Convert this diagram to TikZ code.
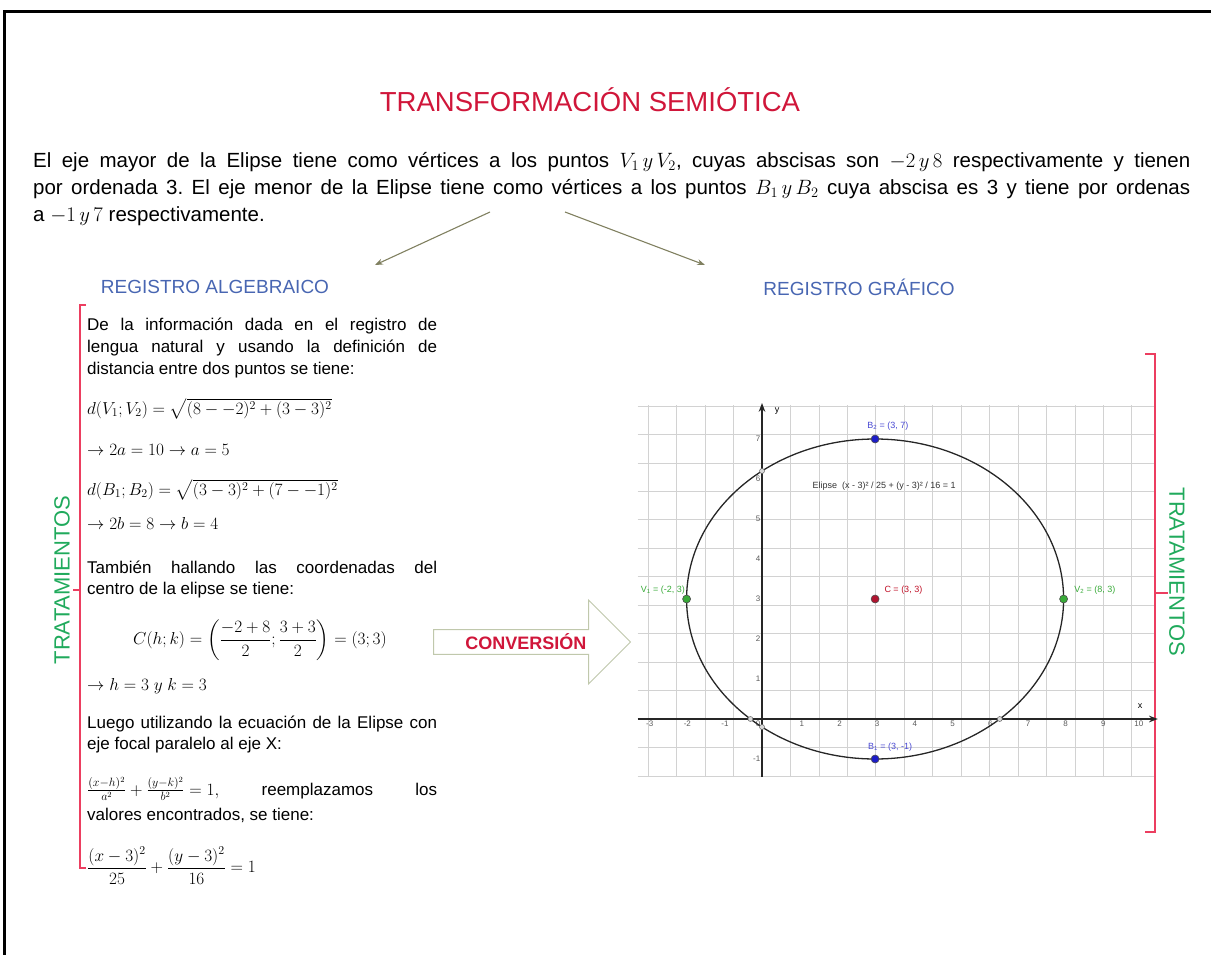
\documentclass[tikz,border=0pt]{standalone}
\usepackage{amsmath,amssymb}
\usepackage{fontspec}
\setmainfont{Liberation Sans}
\usetikzlibrary{arrows.meta,positioning,calc,shapes.arrows}
\frenchspacing

\definecolor{rojotit}{RGB}{208,22,58}
\definecolor{azulreg}{RGB}{72,102,178}
\definecolor{verdetrat}{RGB}{32,170,92}
\definecolor{rosallave}{RGB}{236,62,96}
\definecolor{olivo}{RGB}{128,128,96}
\definecolor{bordeflecha}{RGB}{192,200,172}
\definecolor{azulpto}{RGB}{28,28,200}
\definecolor{rojopto}{RGB}{176,20,48}
\definecolor{verdepto}{RGB}{56,170,56}

\begin{document}
\begin{tikzpicture}[>=Stealth,x=1pt,y=-1pt,
  texto/.style={anchor=base west,inner sep=0pt,font=\fontsize{17}{21}\selectfont},
  registro/.style={text=azulreg,font=\fontsize{19}{23}\selectfont,inner sep=0pt},
  trat/.style={text=verdetrat,font=\fontsize{22}{26}\selectfont,inner sep=0pt},
  llave/.style={draw=rosallave,line width=1.4pt},
  flecha/.style={->,draw=olivo,line width=1.1pt},
  rejilla/.style={draw=gray!35,line width=0.8pt},
  eje/.style={->,draw=black!85,line width=1.3pt},
  marca/.style={font=\fontsize{8}{9}\selectfont,text=black!65,inner sep=1.5pt},
  etq/.style={font=\fontsize{9}{10}\selectfont,inner sep=0pt},
  punto/.style={circle,draw=black!70,line width=0.6pt,minimum size=8pt,inner sep=0pt},
  corte/.style={circle,draw=black!60,fill=gray!30,line width=0.5pt,minimum size=5pt,inner sep=0pt}]
\useasboundingbox (0,0) rectangle (1211,955);
\draw[line width=2.6pt] (4.3,955) -- (4.3,11.3) -- (1211,11.3);

% encabezado
\node[text=rojotit,font=\fontsize{27.5}{32}\selectfont] (titulo) at (590,100) {TRANSFORMACIÓN SEMIÓTICA};
\node[anchor=north west,text width=1157pt,align=justify,inner sep=0pt,font=\fontsize{20.5}{27}\selectfont] (enunciado) at (33,152)
  {El eje mayor de la Elipse tiene como vértices a los puntos $V_1\,y\,V_2$, cuyas abscisas son $-2\,y\,8$ respectivamente y tienen\linebreak
   por ordenada 3. El eje menor de la Elipse tiene como vértices a los puntos $B_1\,y\,B_2$ cuya abscisa es 3 y tiene por ordenas\linebreak
   a $-1\,y\,7$ respectivamente.};

\node[registro] (regalg) at (215,287) {REGISTRO ALGEBRAICO};
\node[registro] (reggraf) at (859,287) {REGISTRO GRÁFICO};

\coordinate (salidaA) at (490,212);
\coordinate (salidaB) at (565,212);
\coordinate (llegadaA) at (375,265);
\coordinate (llegadaB) at (705,265);
\draw[flecha] (salidaA) -- (llegadaA);
\draw[flecha] (salidaB) -- (llegadaB);

% registro algebraico
\node[texto] (lin1) at (87,330) {\makebox[350pt][s]{De la información dada en el registro de}};
\node[texto] (lin2) at (87,352) {\makebox[350pt][s]{lengua natural y usando la definición de}};
\node[texto] (lin3) at (87,374) {distancia entre dos puntos se tiene:};
\node[texto] (dv) at (87,414) {$d(V_1;V_2)=\sqrt{(8--2)^2+(3-3)^2}$};
\node[texto] (av) at (87,455) {$\rightarrow 2a=10\rightarrow a=5$};
\node[texto] (db) at (87,495) {$d(B_1;B_2)=\sqrt{(3-3)^2+(7--1)^2}$};
\node[texto] (bv) at (87,529) {$\rightarrow 2b=8\rightarrow b=4$};
\node[texto] (lin4) at (87,573) {\makebox[350pt][s]{También hallando las coordenadas del}};
\node[texto] (lin5) at (87,594) {centro de la elipse se tiene:};
\node[texto,anchor=center] (centro) at (260,640) {$\displaystyle C(h;k)=\left(\frac{-2+8}{2};\frac{3+3}{2}\right)=(3;3)$};
\node[texto] (hk) at (87,690) {$\rightarrow h=3\;y\;k=3$};
\node[texto] (lin6) at (87,728) {\makebox[350pt][s]{Luego utilizando la ecuación de la Elipse con}};
\node[texto] (lin7) at (87,749) {eje focal paralelo al eje X:};
\node[texto] (lin8) at (87,795) {\makebox[350pt][l]{$\frac{(x-h)^2}{a^2}+\frac{(y-k)^2}{b^2}=1,$\hfill reemplazamos\hfill los}};
\node[texto] (lin9) at (87,820) {valores encontrados, se tiene:};
\node[texto,anchor=west] (final) at (87,866) {$\dfrac{(x-3)^2}{25}+\dfrac{(y-3)^2}{16}=1$};

% llaves
\draw[llave] (86,305) -- (80,305) -- (80,868) -- (86,868);
\draw[llave] (80,590) -- (73,590);
\node[trat,rotate=90] (tratizq) at (62,580) {TRATAMIENTOS};
\draw[llave] (1145,354) -- (1155,354) -- (1155,832) -- (1145,832);
\draw[llave] (1155,593) -- (1168,593);
\node[trat,rotate=-90] (tratder) at (1177,572) {TRATAMIENTOS};

% conversion
\node[single arrow,draw=bordeflecha,line width=1pt,fill=white,minimum height=197pt,minimum width=84pt,
  single arrow head extend=20.5pt,inner sep=0pt,anchor=tail,text=rojotit,font=\bfseries\fontsize{18}{20}\selectfont]
  (conversion) at (433,642) {CONVERSIÓN};

% registro grafico
\begin{scope}[shift={(762,719)},x=37.7pt,y=40pt]
\draw[rejilla] (-3.3,-1.45) grid (10.4,7.85);
\draw[eje] (-3.3,0) -- (10.5,0);
\draw[eje] (0,-1.45) -- (0,7.9);
\node[etq] (ejex) at (10.03,0.33) {x};
\node[etq] (ejey) at (0.4,7.7) {y};
\foreach \i in {-3,-2,-1,1,2,3,4,5,6,7,8,9,10}
  \node[marca,below left=0pt and -6pt] (tx\i) at (\i,0) {\i};
\node[marca,below left] (tx0) at (0,0) {0};
\foreach \j in {-1,1,2,3,4,5,6,7}
  \node[marca,left] (ty\j) at (0,\j) {\j};
\draw[black!85,line width=1.3pt] (3,3) ellipse [x radius=5, y radius=4];
\node[corte] (p1) at (0,6.2) {};
\node[corte] (p2) at (0,-0.2) {};
\node[corte] (p3) at (-0.307,0) {};
\node[corte] (p4) at (6.307,0) {};
\node[punto,fill=azulpto] (B2) at (3,7) {};
\node[punto,fill=azulpto] (B1) at (3,-1) {};
\node[punto,fill=rojopto] (C) at (3,3) {};
\node[punto,fill=verdepto] (V1) at (-2,3) {};
\node[punto,fill=verdepto] (V2) at (8,3) {};
\node[etq,text=azulpto!80] (eB2) at (3.34,7.33) {B\textsubscript{2} = (3, 7)};
\node[etq,text=azulpto!80] (eB1) at (3.4,-0.7) {B\textsubscript{1} = (3, -1)};
\node[etq,text=rojopto!80!red] (eC) at (3.75,3.22) {C = (3, 3)};
\node[etq,text=verdepto] (eV1) at (-2.63,3.22) {V\textsubscript{1} = (-2, 3)};
\node[etq,text=verdepto] (eV2) at (8.83,3.22) {V\textsubscript{2} = (8, 3)};
\node[etq,text=black!80] (eelipse) at (3.24,5.83) {Elipse\ \ (x - 3)² / 25 + (y - 3)² / 16 = 1};
\end{scope}
\end{tikzpicture}
\end{document}
